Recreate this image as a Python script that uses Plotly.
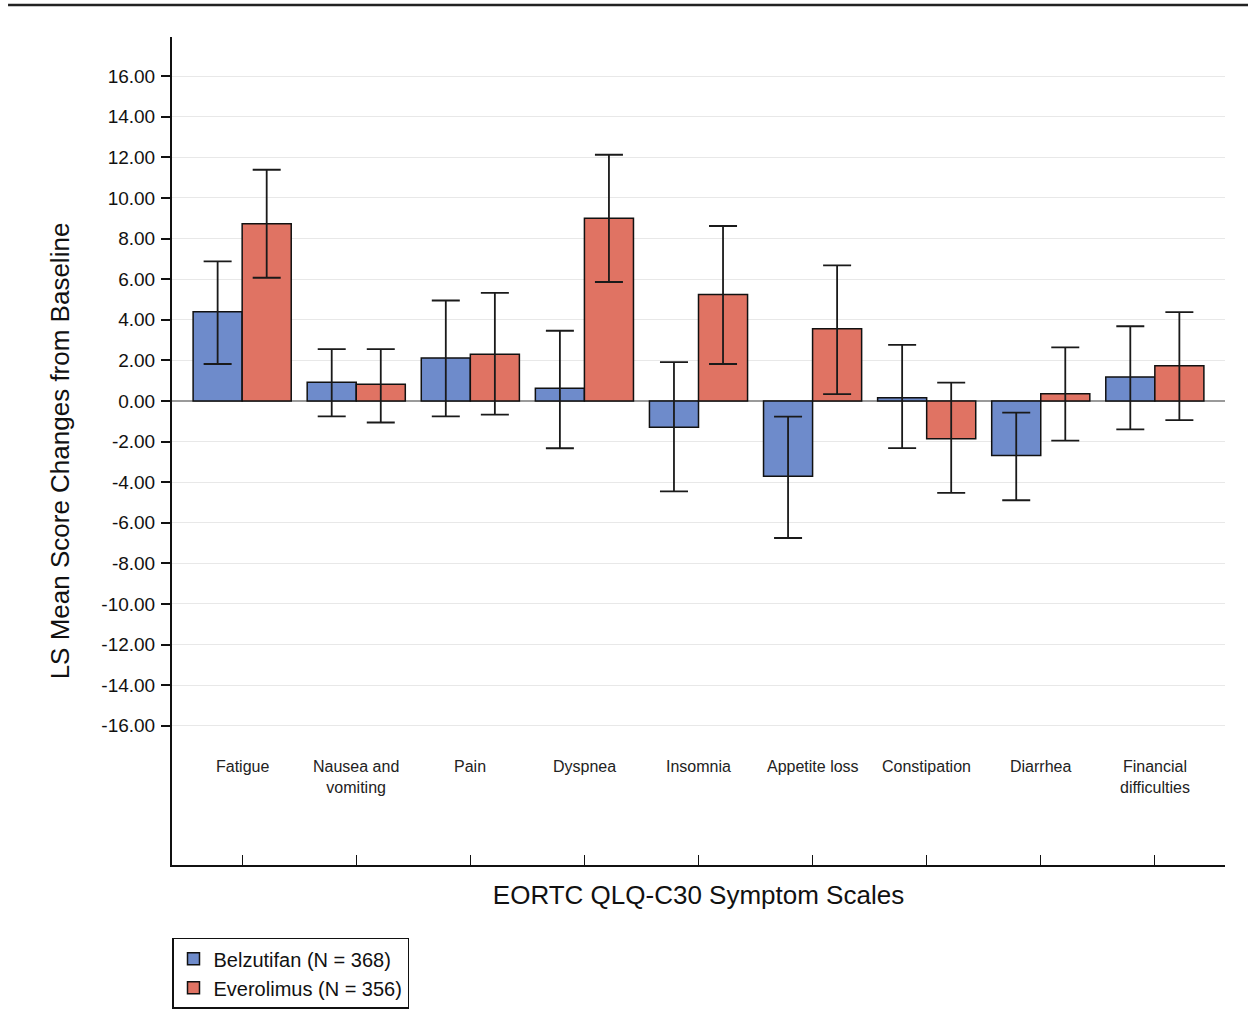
import plotly.graph_objects as go

categories = ["Fatigue", "Nausea and<br>vomiting", "Pain", "Dyspnea", "Insomnia",
              "Appetite loss", "Constipation", "Diarrhea", "Financial<br>difficulties"]

belz_mean = [4.40, 0.92, 2.12, 0.63, -1.30, -3.71, 0.16, -2.69, 1.18]
belz_low = [1.82, -0.76, -0.76, -2.33, -4.45, -6.75, -2.32, -4.89, -1.40]
belz_high = [6.88, 2.55, 4.95, 3.46, 1.91, -0.77, 2.76, -0.57, 3.68]

evero_mean = [8.73, 0.82, 2.30, 9.00, 5.24, 3.56, -1.86, 0.36, 1.74]
evero_low = [6.07, -1.06, -0.67, 5.86, 1.82, 0.34, -4.53, -1.95, -0.94]
evero_high = [11.39, 2.55, 5.32, 12.13, 8.62, 6.68, 0.90, 2.64, 4.38]

series_names = ["Belzutifan (N = 368)", "Everolimus (N = 356)"]
y_tickvals = [16, 14, 12, 10, 8, 6, 4, 2, 0, -2, -4, -6, -8, -10, -12, -14, -16]

x_pos = list(range(len(categories)))

FONT = "Liberation Sans, Arial, sans-serif"


def err(mean, low, high):
    return dict(type="data", symmetric=False,
                array=[h - m for m, h in zip(mean, high)],
                arrayminus=[m - l for m, l in zip(mean, low)],
                color="#1a1a1a", thickness=1.8, width=14)


fig = go.Figure()
fig.add_trace(go.Bar(x=x_pos, y=belz_mean, name=series_names[0],
                     marker=dict(color="#6E8BCB", line=dict(color="#111111", width=1.5)),
                     error_y=err(belz_mean, belz_low, belz_high)))
fig.add_trace(go.Bar(x=x_pos, y=evero_mean, name=series_names[1],
                     marker=dict(color="#E07363", line=dict(color="#111111", width=1.5)),
                     error_y=err(evero_mean, evero_low, evero_high)))

for xi, cat in zip(x_pos, categories):
    fig.add_annotation(x=xi, y=-17.5, xref="x", yref="y", text=cat, showarrow=False,
                       yanchor="top", xanchor="center",
                       font=dict(family=FONT, size=16, color="#222222"))

# top border line
fig.add_shape(type="line", xref="paper", yref="paper",
              x0=-0.1557, x1=1.03, y0=1.0386, y1=1.0386,
              line=dict(color="#222222", width=2.5))

fig.update_layout(
    width=1248, height=1025,
    margin=dict(l=172, r=23, t=37, b=160, autoexpand=False),
    paper_bgcolor="white", plot_bgcolor="white",
    barmode="group", bargap=0.14, bargroupgap=0,
    font=dict(family=FONT, color="#111111"),
    showlegend=True,
    legend=dict(x=0, xanchor="left", y=-0.088, yanchor="top",
                bordercolor="#111111", borderwidth=1.5,
                font=dict(family=FONT, size=20, color="#111111"),
                bgcolor="white"),
    xaxis=dict(range=[-0.615, 8.615], tickvals=x_pos, showticklabels=False,
               ticks="inside", ticklen=10, tickcolor="#111111", tickwidth=1.2,
               showline=True, linecolor="#111111", linewidth=2,
               showgrid=False, zeroline=False,
               title=dict(text="EORTC QLQ-C30 Symptom Scales", standoff=20,
                          font=dict(family=FONT, size=26, color="#111111"))),
    yaxis=dict(range=[-22.86, 17.93], tickvals=y_tickvals,
               ticktext=[f"{v:.2f}" for v in y_tickvals],
               tickfont=dict(family=FONT, size=19, color="#111111"),
               ticks="outside", ticklen=9, tickcolor="#111111", tickwidth=1.5,
               ticklabelstandoff=2,
               showline=True, linecolor="#111111", linewidth=2,
               showgrid=True, gridcolor="#e8e8e8", gridwidth=1,
               zeroline=True, zerolinecolor="#9a9a9a", zerolinewidth=1.5,
               title=dict(text="LS Mean Score Changes from Baseline", standoff=24,
                          font=dict(family=FONT, size=26, color="#111111"))),
)

fig.write_html("out.html")
